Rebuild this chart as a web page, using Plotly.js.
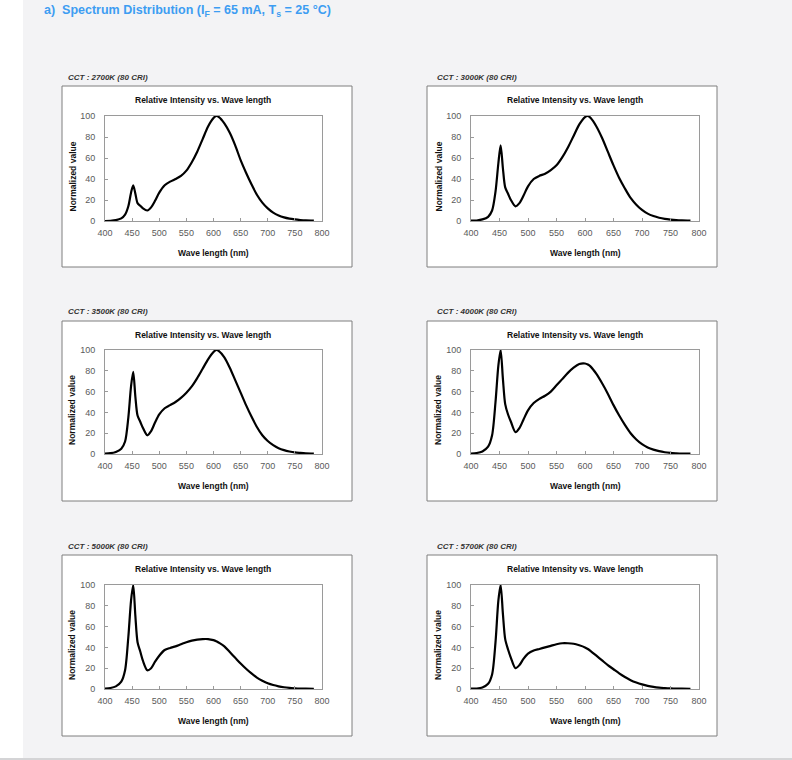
<!DOCTYPE html>
<html>
<head>
<meta charset="utf-8">
<script src="https://cdn.plot.ly/plotly-3.0.1.min.js"></script>
<style>
html,body{margin:0;padding:0;background:#f3f3f5;}
#chart{width:792px;height:760px;}
</style>
</head>
<body>
<div id="chart"></div>
<script>
// ---- data ----
const wavelength = [400,410,420,430,437,443,448,452,456,460,465,470,478,485,492,500,510,520,530,540,550,560,570,580,590,600,605,610,620,630,640,650,660,670,680,690,700,710,720,730,740,750,760,770,785];

const cct2700 = [0,0.2,0.8,2.5,6,14,27,34,26,17,14.5,12,10,13,19,27,34,37.5,40,43,48,56,66,78,90,98,100,99,93,84,72,58,46,35,25,17.5,12,8,5.3,3.5,2.3,1.5,0.9,0.5,0.3];
const cct3000 = [0.3,0.5,1.5,4,10,28,55,72,50,32,26,20,14,17,24,33,40,43,45,48.5,53,60.5,70,81,92,99,100,98,90,79,66,53,41,31,22,15.5,10.5,7,4.7,3.1,2,1.3,0.8,0.5,0.3];
const cct3500 = [0.5,0.8,2,5,12,35,65,79,55,37,31,25,18,22,30,38,44,47,50,54,59,65,73,82,91,98,100,99,93,83,71,59,47,36,26,18,12.5,8.5,5.6,3.7,2.4,1.5,1,0.6,0.4];
const cct4000 = [0.5,1,2.5,7,18,50,85,100,72,48,38,31,21,25,33,42,49,53,56,60,66,72,78,83,86.5,87,86,84,77,68,58,47,37,28,20,14,9.5,6.3,4.2,2.7,1.7,1.1,0.7,0.4,0.3];
const cct5000 = [0.5,1,2.5,7,18,50,85,100,70,45,36,27,18,20,26,32,37.5,39.5,41,43,45,46.5,47.5,48,48,47,46,44.5,41,35.5,30,24.5,19.5,15,11,8,5.5,3.8,2.6,1.7,1.1,0.7,0.4,0.3,0.2];
const cct5700 = [0.3,0.5,1.5,5,14,45,85,100,72,48,38,30,20,23,29,34,37,38.5,40,41.5,43,44,44,43.5,42,40,38.5,36.5,32,27.5,23,19,15,11.5,8.5,6.2,4.4,3,2,1.3,0.9,0.6,0.4,0.3,0.2];

const seriesList = [cct2700, cct3000, cct3500, cct4000, cct5000, cct5700];
const cctLabels = ["CCT : 2700K (80 CRI)","CCT : 3000K (80 CRI)","CCT : 3500K (80 CRI)","CCT : 4000K (80 CRI)","CCT : 5000K (80 CRI)","CCT : 5700K (80 CRI)"];
const xTicks = [400,450,500,550,600,650,700,750,800];
const yTicks = [0,20,40,60,80,100];
const chartTitle = "Relative Intensity vs. Wave length";
const xTitle = "Wave length (nm)";
const yTitle = "Normalized value";
const pageTitle = "a)  Spectrum Distribution (I<sub>F</sub> = 65 mA, T<sub>s</sub> = 25 °C)";

// ---- geometry (pixels) ----
const W = 792, H = 760;
const px = v => v / W;
const py = v => 1 - v / H;

const cols = [
  {boxL: 62, boxR: 352, plotL: 105, plotR: 322, titleX: 203, yTitleX: 72, cctX: 66},
  {boxL: 427, boxR: 717, plotL: 471, plotR: 699, titleX: 575, yTitleX: 438, cctX: 435}
];
const rows = [
  {boxT: 86, boxB: 267, plotT: 116, plotB: 221, cctY: 77},
  {boxT: 321, boxB: 501, plotT: 350, plotB: 454, cctY: 311},
  {boxT: 555, boxB: 736, plotT: 585, plotB: 689, cctY: 546}
];

const traces = [];
const layout = {
  width: W, height: H,
  margin: {l:0, r:0, t:0, b:0},
  paper_bgcolor: '#f3f3f5',
  plot_bgcolor: '#ffffff',
  showlegend: false,
  shapes: [
    {type:'rect', xref:'paper', yref:'paper', x0:0, x1:px(23), y0:0, y1:1, fillcolor:'#ffffff', line:{width:0}, layer:'below'},
    {type:'rect', xref:'paper', yref:'paper', x0:0, x1:1, y0:0, y1:py(758), fillcolor:'#d4d4d6', line:{width:0}, layer:'below'}
  ],
  annotations: [
    {xref:'paper', yref:'paper', x:px(42), y:py(11), xanchor:'left', yanchor:'middle', text:'<b>'+pageTitle+'</b>', showarrow:false,
     font:{family:'Liberation Sans, Arial, sans-serif', size:12.5, color:'#3d9df2'}}
  ]
};

const tickFont = {family:'Liberation Sans, Arial, sans-serif', size:9, color:'#5a5a5a'};
const boldFont = {family:'Liberation Sans, Arial, sans-serif', size:8.5, color:'#111111'};

for (let i = 0; i < 6; i++) {
  const c = cols[i % 2], r = rows[Math.floor(i / 2)];
  const n = i === 0 ? '' : String(i + 1);
  traces.push({
    x: wavelength, y: seriesList[i],
    type: 'scatter', mode: 'lines',
    line: {color:'#000000', width:2.2, shape:'spline', smoothing:0.8},
    xaxis: 'x' + n, yaxis: 'y' + n, hoverinfo:'skip'
  });
  layout['xaxis' + n] = {
    domain: [px(c.plotL), px(c.plotR)], anchor: 'y' + n,
    range: [400, 800], tickvals: xTicks, ticktext: xTicks.map(String),
    showgrid: false, zeroline: false, showline: true, mirror: true,
    linecolor: '#9a9a9a', linewidth: 1, ticks: 'inside', ticklen: 3, tickcolor: '#9a9a9a', tickwidth: 1,
    tickfont: tickFont, ticklabelstandoff: 3, fixedrange: true
  };
  layout['yaxis' + n] = {
    domain: [py(r.plotB), py(r.plotT)], anchor: 'x' + n,
    range: [0, 100], tickvals: yTicks, ticktext: yTicks.map(String),
    showgrid: false, zeroline: false, showline: true, mirror: true,
    linecolor: '#9a9a9a', linewidth: 1, ticks: 'inside', ticklen: 3, tickcolor: '#9a9a9a', tickwidth: 1,
    tickfont: tickFont, ticklabelstandoff: 7, fixedrange: true
  };
  layout.shapes.push({type:'rect', xref:'paper', yref:'paper',
    x0:px(c.boxL), x1:px(c.boxR), y0:py(r.boxB), y1:py(r.boxT),
    fillcolor:'#ffffff', line:{color:'#7f7f7f', width:1}, layer:'below'});
  layout.annotations.push(
    {xref:'paper', yref:'paper', x:px(c.cctX), y:py(r.cctY), xanchor:'left', yanchor:'middle',
     text:'<b><i>'+cctLabels[i]+'</i></b>', showarrow:false,
     font:{family:'Liberation Sans, Arial, sans-serif', size:8, color:'#333333'}},
    {xref:'paper', yref:'paper', x:px(c.titleX), y:py(r.boxT + 14), xanchor:'center', yanchor:'middle',
     text:'<b>'+chartTitle+'</b>', showarrow:false, font:boldFont},
    {xref:'paper', yref:'paper', x:px((c.plotL + c.plotR) / 2), y:py(r.plotB + 32), xanchor:'center', yanchor:'middle',
     text:'<b>'+xTitle+'</b>', showarrow:false, font:boldFont},
    {xref:'paper', yref:'paper', x:px(c.yTitleX), y:py((r.plotT + r.plotB) / 2 + 8), xanchor:'center', yanchor:'middle',
     text:'<b>'+yTitle+'</b>', showarrow:false, textangle:-90, font:boldFont}
  );
}

Plotly.newPlot('chart', traces, layout, {displayModeBar:false, staticPlot:true});
</script>
</body>
</html>
